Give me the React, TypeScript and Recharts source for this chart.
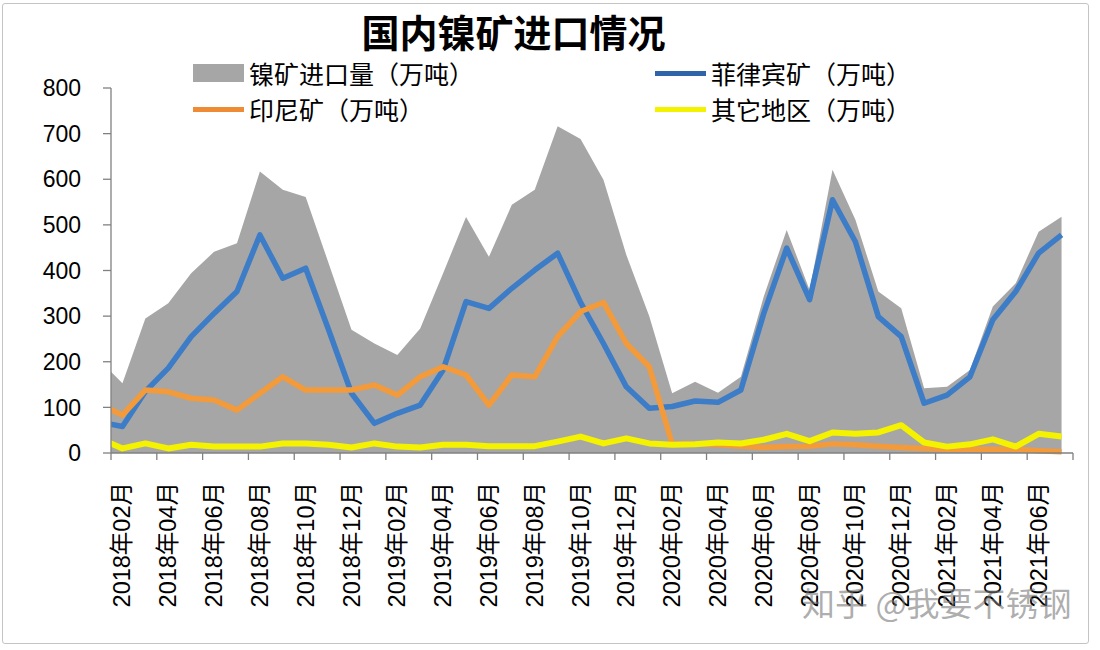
import React from 'react';
import { ComposedChart, Area, Line, XAxis, YAxis, Legend } from 'recharts';

const monthLabels = [
  '2018年01月', '2018年02月', '2018年03月', '2018年04月', '2018年05月', '2018年06月',
  '2018年07月', '2018年08月', '2018年09月', '2018年10月', '2018年11月', '2018年12月',
  '2019年01月', '2019年02月', '2019年03月', '2019年04月', '2019年05月', '2019年06月',
  '2019年07月', '2019年08月', '2019年09月', '2019年10月', '2019年11月', '2019年12月',
  '2020年01月', '2020年02月', '2020年03月', '2020年04月', '2020年05月', '2020年06月',
  '2020年07月', '2020年08月', '2020年09月', '2020年10月', '2020年11月', '2020年12月',
  '2021年01月', '2021年02月', '2021年03月', '2021年04月', '2021年05月', '2021年06月',
  '2021年07月',
];

// 镍矿进口量（万吨）
const totalImport = [
  203, 153, 295, 328, 394, 441, 460, 617, 577, 561, 416, 270,
  240, 215, 273, 394, 517, 430, 544, 577, 716, 688, 599, 434,
  300, 131, 156, 132, 167, 343, 489, 357, 621, 511, 354, 317,
  142, 145, 182, 321, 372, 485, 518,
];

// 菲律宾矿（万吨）
const philippines = [
  68, 58, 135, 186, 255, 306, 354, 478, 383, 405, 270, 131,
  65, 87, 105, 182, 332, 317, 361, 401, 438, 330, 240, 145,
  98, 102, 114, 111, 138, 306, 449, 336, 555, 463, 299, 255,
  109, 127, 167, 292, 354, 438, 478,
];

// 印尼矿（万吨）
const indonesia = [
  107, 83, 138, 134, 120, 116, 94, 131, 167, 138, 138, 138,
  149, 127, 167, 189, 171, 105, 171, 167, 255, 310, 330, 240,
  189, 20, 20, 18, 15, 12, 14, 15, 20, 18, 15, 12,
  10, 8, 8, 8, 8, 5, 3,
];

// 其它地区（万吨）
const others = [
  32, 10, 21, 10, 18, 14, 14, 14, 21, 21, 18, 12,
  21, 14, 12, 18, 18, 15, 15, 15, 25, 36, 21, 32,
  21, 18, 19, 23, 21, 29, 42, 26, 45, 42, 45, 61,
  23, 14, 19, 30, 14, 42, 36,
];

const yTicks = [0, 100, 200, 300, 400, 500, 600, 700, 800];

const seriesNames = ['镍矿进口量（万吨）', '菲律宾矿（万吨）', '印尼矿（万吨）', '其它地区（万吨）'];
const seriesColors = ['#a6a6a6', '#3d7cc6', '#f39a3b', '#f5f200'];

const data = monthLabels.map((m, i) => ({
  pos: i,
  month: m,
  total: totalImport[i],
  ph: philippines[i],
  id: indonesia[i],
  other: others[i],
}));

// tick marks between every two categories, labels on every other category
const xTicks: number[] = [];
for (let k = 0; k <= 21; k++) {
  xTicks.push(0.5 + 2 * k);
  if (k < 21) xTicks.push(1 + 2 * k);
}

const CJK = '"Liberation Sans", "Noto Sans CJK SC", sans-serif';

const XTick = (props: any) => {
  const { x, y, payload } = props;
  const v = payload.value as number;
  if (v % 1 !== 0) {
    return <line x1={x} x2={x} y1={y} y2={y + 7} stroke="#808080" strokeWidth={1.3} />;
  }
  const ty = y + 29;
  return (
    <text
      x={x}
      y={ty}
      transform={`rotate(-90, ${x}, ${ty})`}
      textAnchor="end"
      dominantBaseline="central"
      fontSize={23.5}
      fill="#000"
      fontFamily={CJK}
    >
      {monthLabels[v]}
    </text>
  );
};

const LegendContent = () => {
  const items = [
    { name: seriesNames[0], color: seriesColors[0], kind: 'rect', left: 193, top: 73 },
    { name: seriesNames[1], color: '#2f64aa', kind: 'line', left: 655, top: 73 },
    { name: seriesNames[2], color: '#ef8a35', kind: 'line', left: 193, top: 109 },
    { name: seriesNames[3], color: '#f5f200', kind: 'line', left: 655, top: 109 },
  ];
  return (
    <div style={{ position: 'relative', width: 1100, height: 130 }}>
      {items.map((it) => (
        <div key={it.name}>
          {it.kind === 'rect' ? (
            <div
              style={{
                position: 'absolute',
                left: it.left,
                top: it.top - 9,
                width: 51,
                height: 18,
                background: it.color,
              }}
            />
          ) : (
            <div
              style={{
                position: 'absolute',
                left: it.left,
                top: it.top - 2.5,
                width: 51,
                height: 5,
                background: it.color,
              }}
            />
          )}
          <div
            style={{
              position: 'absolute',
              left: it.left + 56,
              top: it.top - 17,
              height: 34,
              lineHeight: '34px',
              fontSize: 25,
              fontFamily: '"Noto Sans CJK SC", sans-serif',
              color: '#000',
              whiteSpace: 'nowrap',
            }}
          >
            {it.name}
          </div>
        </div>
      ))}
    </div>
  );
};

export default function App() {
  return (
    <div style={{ position: 'absolute', left: 0, top: 0, width: 1100, height: 650, background: '#fff' }}>
      <div
        style={{
          position: 'absolute',
          left: 2,
          top: 3,
          width: 1087,
          height: 641,
          border: '1.5px solid #c4c4c4',
          borderRadius: 3,
          boxSizing: 'border-box',
        }}
      />
      <div
        style={{
          position: 'absolute',
          left: 0,
          top: 7,
          width: 1027,
          textAlign: 'center',
          fontSize: 38,
          fontWeight: 700,
          lineHeight: '48px',
          fontFamily: '"Noto Sans CJK SC", sans-serif',
          color: '#000',
          zIndex: 2,
        }}
      >
        国内镍矿进口情况
      </div>
      <ComposedChart
        width={1100}
        height={650}
        data={data}
        margin={{ top: 88, right: 27, bottom: 0, left: 0 }}
      >
        <XAxis
          dataKey="pos"
          type="number"
          domain={[0.5, 42.5]}
          allowDataOverflow
          ticks={xTicks}
          interval={0}
          tick={<XTick />}
          tickLine={false}
          tickSize={0}
          tickMargin={0}
          height={197}
          axisLine={{ stroke: '#808080', strokeWidth: 1.3 }}
        />
        <YAxis
          type="number"
          domain={[0, 800]}
          ticks={yTicks}
          interval={0}
          width={111}
          tickSize={8}
          tickMargin={22}
          tick={{ fontSize: 23, fill: '#000', fontFamily: '"Liberation Sans", sans-serif' }}
          tickLine={{ stroke: '#808080', strokeWidth: 1.3 }}
          axisLine={{ stroke: '#808080', strokeWidth: 1.3 }}
        />
        <Legend
          layout="horizontal"
          verticalAlign="middle"
          align="center"
          content={<LegendContent />}
          wrapperStyle={{ position: 'absolute', left: 0, top: 0, width: 1100, height: 130 }}
        />
        <Area
          type="linear"
          dataKey="total"
          name={seriesNames[0]}
          fill={seriesColors[0]}
          fillOpacity={1}
          stroke="none"
          isAnimationActive={false}
          dot={false}
          activeDot={false}
        />
        <Line
          type="linear"
          dataKey="ph"
          name={seriesNames[1]}
          stroke={seriesColors[1]}
          strokeWidth={5.5}
          strokeLinejoin="round"
          dot={false}
          activeDot={false}
          isAnimationActive={false}
        />
        <Line
          type="linear"
          dataKey="id"
          name={seriesNames[2]}
          stroke={seriesColors[2]}
          strokeWidth={5.5}
          strokeLinejoin="round"
          dot={false}
          activeDot={false}
          isAnimationActive={false}
        />
        <Line
          type="linear"
          dataKey="other"
          name={seriesNames[3]}
          stroke={seriesColors[3]}
          strokeWidth={6}
          strokeLinejoin="round"
          dot={false}
          activeDot={false}
          isAnimationActive={false}
        />
      </ComposedChart>
      <div
        style={{
          position: 'absolute',
          left: 802,
          top: 581,
          fontSize: 33,
          lineHeight: '42px',
          fontFamily: '"Noto Sans CJK SC", sans-serif',
          color: 'rgba(120,120,120,0.6)',
          whiteSpace: 'nowrap',
          zIndex: 3,
        }}
      >
        知乎 @我要不锈钢
      </div>
    </div>
  );
}
